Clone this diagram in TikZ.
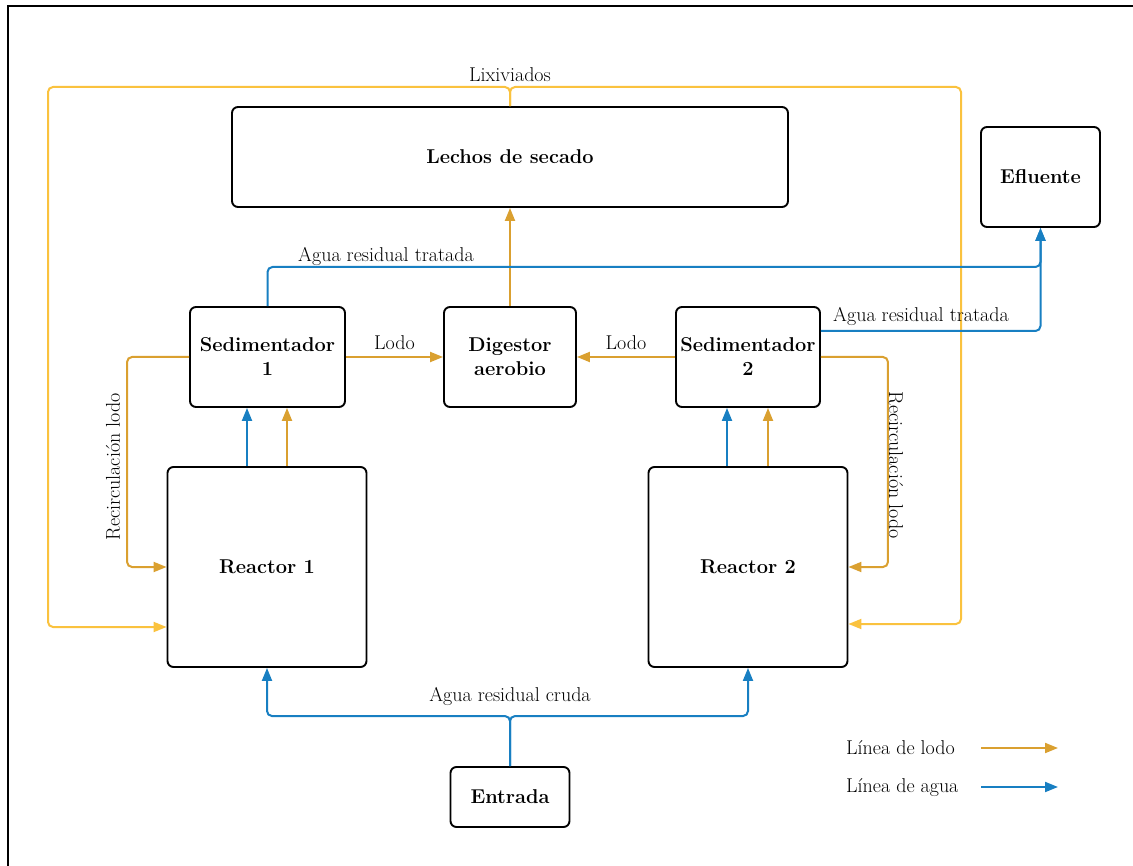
\documentclass[tikz,border=0pt]{standalone}
\usepackage{fontspec}
\usetikzlibrary{positioning,arrows.meta}
\definecolor{lodo}{RGB}{218,160,48}
\definecolor{agua}{RGB}{24,127,194}
\definecolor{lixi}{RGB}{250,194,62}

\begin{document}
\begin{tikzpicture}[
  x=1pt, y=-1pt,
  unit/.style={draw, line width=1.9pt, rounded corners=6pt, align=center,
               inner sep=0pt, font=\fontsize{20}{24}\selectfont\bfseries},
  lbl/.style={font=\fontsize{20}{22}\selectfont, inner sep=1pt},
  flow/.style={line width=2pt, rounded corners=5pt,
               -{Triangle[length=13pt,width=10pt]}},
  lodoarr/.style={flow, draw=lodo},
  aguaarr/.style={flow, draw=agua},
  lixiarr/.style={flow, draw=lixi}]
\useasboundingbox (0,0) rectangle (1133,866);
\draw[line width=2pt] (8,866) -- (8,6) -- (1133,6);

% units
\node[unit, minimum width=556pt, minimum height=100pt] (lechos) at (510,157) {Lechos de secado};
\node[unit, minimum width=119pt, minimum height=100pt] (eflu) at (1040.5,177) {Efluente};
\node[unit, minimum width=155pt, minimum height=100pt] (sed1) at (267.5,357) {Sedimentador\\1};
\node[unit, minimum width=132pt, minimum height=100pt] (dig) at (510,357) {Digestor\\aerobio};
\node[unit, minimum width=144pt, minimum height=100pt] (sed2) at (748,357) {Sedimentador\\2};
\node[unit, minimum width=199pt, minimum height=200pt] (r1) at (267,567) {Reactor 1};
\node[unit, minimum width=199pt, minimum height=200pt] (r2) at (748,567) {Reactor 2};
\node[unit, minimum width=119pt, minimum height=60pt] (entrada) at (510,797) {Entrada};

% lixiviados
\draw[lixiarr] (lechos.north) |- (48,87) |- ([yshift=-60pt]r1.west);
\draw[lixiarr] (lechos.north) |- (961,87) |- ([yshift=-57pt]r2.east);
\node[lbl] (lixlbl) at (510,75) {Lixiviados};

% sludge line
\draw[lodoarr] (dig.north) -- (lechos.south);
\draw[lodoarr] (sed1) -- (dig) node[lbl, midway, above=5pt] {Lodo};
\draw[lodoarr] (sed2) -- (dig) node[lbl, midway, above=5pt] {Lodo};
\draw[lodoarr] (sed1.west) -- ++(-62,0) |- (r1.west);
\draw[lodoarr] (sed2.east) -- ++(67,0) |- (r2.east);
\node[lbl, rotate=90] (rec1) at (113,467) {Recirculación lodo};
\node[lbl, rotate=-90] (rec2) at (896,465) {Recirculación lodo};

% reactors to settlers
\coordinate (r1a) at ([xshift=-20pt]r1.north);
\coordinate (r1l) at ([xshift=20pt]r1.north);
\coordinate (r2a) at ([xshift=-21pt]r2.north);
\coordinate (r2l) at ([xshift=20pt]r2.north);
\draw[aguaarr] (r1a) -- (r1a |- sed1.south);
\draw[lodoarr] (r1l) -- (r1l |- sed1.south);
\draw[aguaarr] (r2a) -- (r2a |- sed2.south);
\draw[lodoarr] (r2l) -- (r2l |- sed2.south);

% water line
\draw[aguaarr] (sed1.north) |- (eflu.south |- 0,267) -- (eflu.south);
\draw[aguaarr] ([yshift=26pt]sed2.east) -| (eflu.south);
\node[lbl] (trat1) at (386,256) {Agua residual tratada};
\node[lbl] (trat2) at (921,316) {Agua residual tratada};
\draw[aguaarr] (entrada.north) -- ++(0,-50) -| (r1.south);
\draw[aguaarr] (entrada.north) -- ++(0,-50) -| (r2.south);
\node[lbl] (cruda) at (510,696) {Agua residual cruda};

% legend
\node[lbl, anchor=west] (leglodo) at (845,748) {Línea de lodo};
\node[lbl, anchor=west] (legagua) at (845,788) {Línea de agua};
\coordinate (l1) at (981,748);
\coordinate (l2) at (981,787);
\draw[lodoarr] (l1) -- ++(77,0);
\draw[aguaarr] (l2) -- ++(77,0);
\end{tikzpicture}
\end{document}
